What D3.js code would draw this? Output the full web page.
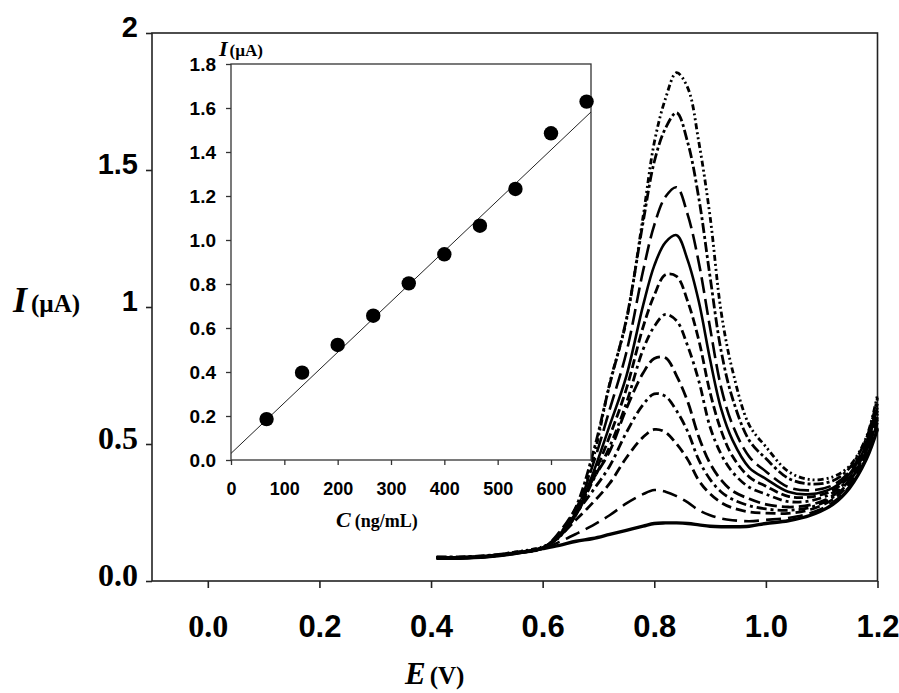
<!DOCTYPE html>
<html>
<head>
<meta charset="utf-8">
<script src="https://cdn.jsdelivr.net/npm/d3@7/dist/d3.min.js"></script>
<style>
  body { margin: 0; background: #fff; }
  svg { display: block; }
</style>
</head>
<body>
<div id="chart"></div>
<script>
const potentials = [0.41, 0.45, 0.50, 0.55, 0.60, 0.63, 0.66, 0.69, 0.72, 0.75, 0.78, 0.80, 0.82, 0.84,
  0.86, 0.88, 0.90, 0.92, 0.94, 0.97, 1.00, 1.04, 1.08, 1.12, 1.15, 1.18, 1.20];

// Current (µA), blank then increasing concentration
const blank = [0.083, 0.083, 0.088, 0.100, 0.118, 0.130, 0.145, 0.155, 0.170, 0.185, 0.200, 0.210, 0.212, 0.212,
  0.210, 0.205, 0.200, 0.198, 0.198, 0.200, 0.210, 0.220, 0.240, 0.280, 0.340, 0.445, 0.555];
const c1 = [0.083, 0.083, 0.088, 0.100, 0.118, 0.143, 0.172, 0.203, 0.240, 0.283, 0.317, 0.332, 0.326, 0.310,
  0.287, 0.258, 0.240, 0.228, 0.222, 0.218, 0.223, 0.230, 0.248, 0.287, 0.346, 0.450, 0.560];
const c2 = [0.084, 0.084, 0.089, 0.101, 0.119, 0.163, 0.224, 0.286, 0.356, 0.450, 0.525, 0.553, 0.543, 0.500,
  0.443, 0.366, 0.318, 0.286, 0.267, 0.252, 0.248, 0.247, 0.261, 0.298, 0.357, 0.462, 0.580];
const c3 = [0.084, 0.084, 0.089, 0.101, 0.119, 0.170, 0.248, 0.330, 0.419, 0.542, 0.644, 0.683, 0.674, 0.621,
  0.545, 0.441, 0.371, 0.325, 0.298, 0.275, 0.263, 0.258, 0.269, 0.305, 0.365, 0.470, 0.590];
const c4 = [0.085, 0.085, 0.090, 0.102, 0.120, 0.178, 0.267, 0.371, 0.473, 0.629, 0.759, 0.812, 0.815, 0.749,
  0.654, 0.525, 0.429, 0.368, 0.329, 0.300, 0.280, 0.270, 0.278, 0.311, 0.370, 0.475, 0.598];
const c5 = [0.085, 0.085, 0.090, 0.102, 0.120, 0.165, 0.242, 0.366, 0.490, 0.649, 0.845, 0.929, 0.973, 0.950,
  0.857, 0.729, 0.562, 0.462, 0.398, 0.342, 0.317, 0.290, 0.293, 0.322, 0.377, 0.482, 0.610];
const c6 = [0.086, 0.086, 0.091, 0.103, 0.121, 0.162, 0.242, 0.377, 0.528, 0.701, 0.927, 1.043, 1.118, 1.112,
  1.020, 0.877, 0.688, 0.548, 0.456, 0.380, 0.346, 0.309, 0.307, 0.331, 0.384, 0.490, 0.622];
const c7 = [0.086, 0.086, 0.091, 0.103, 0.121, 0.162, 0.244, 0.392, 0.567, 0.748, 1.006, 1.151, 1.236, 1.262,
  1.170, 1.018, 0.808, 0.627, 0.515, 0.414, 0.373, 0.326, 0.317, 0.340, 0.391, 0.498, 0.633];
const c8 = [0.087, 0.087, 0.092, 0.104, 0.122, 0.166, 0.257, 0.424, 0.625, 0.834, 1.132, 1.299, 1.402, 1.437,
  1.336, 1.160, 0.924, 0.705, 0.571, 0.454, 0.400, 0.343, 0.331, 0.350, 0.400, 0.507, 0.647];
const c9 = [0.088, 0.088, 0.093, 0.105, 0.123, 0.171, 0.272, 0.465, 0.716, 0.955, 1.310, 1.530, 1.652, 1.709,
  1.600, 1.395, 1.110, 0.838, 0.668, 0.514, 0.447, 0.375, 0.354, 0.366, 0.413, 0.520, 0.668];
const c10 = [0.085, 0.086, 0.090, 0.105, 0.125, 0.160, 0.250, 0.440, 0.720, 0.950, 1.330, 1.600, 1.760, 1.855,
  1.800, 1.600, 1.330, 0.980, 0.770, 0.570, 0.490, 0.400, 0.370, 0.380, 0.420, 0.525, 0.680];

// Calibration inset
const concentrations = [66.7, 133.3, 200, 266.7, 333.3, 400, 466.7, 533.3, 600, 666.7];
const peakCurrents = [0.186, 0.397, 0.523, 0.656, 0.803, 0.935, 1.065, 1.232, 1.485, 1.629];
const fitC = [0, 675];
const fitI = [0.03, 1.582];

// Ticks
const xTicks = [0, 0.2, 0.4, 0.6, 0.8, 1.0, 1.2];
const xTickLabels = ['0.0', '0.2', '0.4', '0.6', '0.8', '1.0', '1.2'];
const yTicks = [0, 0.5, 1, 1.5, 2];
const yTickLabels = ['0.0', '0.5', '1', '1.5', '2'];
const insetXTicks = [0, 100, 200, 300, 400, 500, 600];
const insetYTicks = [0, 0.2, 0.4, 0.6, 0.8, 1.0, 1.2, 1.4, 1.6, 1.8];

const W = 899, H = 693;
const SANS = '"Liberation Sans", Arial, sans-serif';
const SERIF = '"Liberation Serif", "Times New Roman", serif';

const svg = d3.select('#chart').append('svg')
    .attr('width', W)
    .attr('height', H);

// main scales
const x = d3.scaleLinear().domain([-0.1, 1.2]).range([152, 877.5]);
const y = d3.scaleLinear().domain([0, 2]).range([581, 33]);

// frame
svg.append('rect')
    .attr('x', x(-0.1)).attr('y', y(2))
    .attr('width', x(1.2) - x(-0.1)).attr('height', y(0) - y(2))
    .attr('fill', 'none').attr('stroke', '#222').attr('stroke-width', 1.6);

// x axis
const gx = svg.append('g')
    .attr('transform', `translate(0,${y(0)})`)
    .call(d3.axisBottom(x).tickValues(xTicks).tickSize(7).tickFormat((d, i) => xTickLabels[i]));
gx.select('.domain').remove();
gx.selectAll('line').attr('stroke', '#222').attr('stroke-width', 1.6);
gx.selectAll('text')
    .attr('y', 56).attr('dy', 0)
    .attr('fill', '#000')
    .style('font-family', d => d === 0 ? SERIF : SANS)
    .style('font-weight', 'bold')
    .style('font-size', d => d === 0 ? '32px' : '31px');

// y axis
const gy = svg.append('g')
    .attr('transform', `translate(${x(-0.1)},0)`)
    .call(d3.axisLeft(y).tickValues(yTicks).tickSize(6).tickFormat((d, i) => yTickLabels[i]));
gy.select('.domain').remove();
gy.selectAll('line').attr('stroke', '#222').attr('stroke-width', 1.6);
gy.selectAll('text')
    .attr('x', -14).attr('dy', '0.32em')
    .attr('transform', 'translate(0,-6)')
    .attr('fill', '#000')
    .style('font-family', d => d < 1 ? SERIF : SANS)
    .style('font-weight', 'bold')
    .style('font-size', d => d < 1 ? '32px' : '29px');

// axis titles
const yTitle = svg.append('text')
    .attr('x', 13).attr('y', 312)
    .style('font-family', SERIF).style('font-weight', 'bold');
yTitle.append('tspan').style('font-style', 'italic').style('font-size', '36px').text('I');
yTitle.append('tspan').attr('dx', 4).style('font-size', '25px').text('(µA)');

const xTitle = svg.append('text')
    .attr('x', 405).attr('y', 684)
    .style('font-family', SERIF).style('font-weight', 'bold');
xTitle.append('tspan').style('font-style', 'italic').style('font-size', '31px').text('E');
xTitle.append('tspan').attr('dx', 4).style('font-size', '25px').text('(V)');

// voltammograms
const series = [
  { values: blank, dash: null, width: 3.4 },
  { values: c1, dash: '15,7', width: 2.6 },
  { values: c2, dash: '10,5', width: 2.8 },
  { values: c3, dash: '10,4,3,4', width: 2.8 },
  { values: c4, dash: '12,5', width: 2.8 },
  { values: c5, dash: '9,4,3,4', width: 2.8 },
  { values: c6, dash: '9,4', width: 2.8 },
  { values: c7, dash: null, width: 2.6 },
  { values: c8, dash: '16,6', width: 2.6 },
  { values: c9, dash: '10,3,3,3', width: 2.8 },
  { values: c10, dash: '6,3,2,3,2,3', width: 2.8 }
];

const line = d3.line()
    .x(d => x(d[0]))
    .y(d => y(d[1]))
    .curve(d3.curveCatmullRom.alpha(0.5));

svg.append('g').selectAll('path')
  .data(series)
  .join('path')
    .attr('d', s => line(potentials.map((e, i) => [e, s.values[i]])))
    .attr('fill', 'none')
    .attr('stroke', '#000')
    .attr('stroke-width', s => s.width)
    .attr('stroke-dasharray', s => s.dash);

// ---- inset calibration plot ----
const ix = d3.scaleLinear().domain([0, 675]).range([231, 591]);
const iy = d3.scaleLinear().domain([0, 1.8]).range([460, 64]);

const inset = svg.append('g');

inset.append('rect')
    .attr('x', ix(0)).attr('y', iy(1.8))
    .attr('width', ix(675) - ix(0)).attr('height', iy(0) - iy(1.8))
    .attr('fill', '#fff').attr('stroke', '#333').attr('stroke-width', 1.3);

const igx = inset.append('g')
    .attr('transform', `translate(0,${iy(0)})`)
    .call(d3.axisBottom(ix).tickValues(insetXTicks).tickSize(5).tickFormat(d3.format('d')));
igx.select('.domain').remove();
igx.selectAll('line').attr('stroke', '#333').attr('stroke-width', 1.3);
igx.selectAll('text')
    .attr('y', 35).attr('dy', 0)
    .attr('fill', '#000')
    .style('font-family', SANS).style('font-weight', 'bold').style('font-size', '18px');

const igy = inset.append('g')
    .attr('transform', `translate(${ix(0)},0)`)
    .call(d3.axisLeft(iy).tickValues(insetYTicks).tickSize(5).tickFormat(d3.format('.1f')));
igy.select('.domain').remove();
igy.selectAll('line').attr('stroke', '#333').attr('stroke-width', 1.3);
igy.selectAll('text')
    .attr('x', -15).attr('dy', '0.36em')
    .attr('fill', '#000')
    .style('font-family', SANS).style('font-weight', 'bold').style('font-size', '19px');

// fit line
inset.append('path')
    .attr('d', d3.line().x(d => ix(d[0])).y(d => iy(d[1]))(fitC.map((c, i) => [c, fitI[i]])))
    .attr('stroke', '#222').attr('stroke-width', 1).attr('fill', 'none');

// points
inset.append('g').selectAll('circle')
  .data(concentrations.map((c, i) => [c, peakCurrents[i]]))
  .join('circle')
    .attr('cx', d => ix(d[0]))
    .attr('cy', d => iy(d[1]))
    .attr('r', 7.2)
    .attr('fill', '#000');

// inset titles
const iyTitle = inset.append('text')
    .attr('x', 219).attr('y', 56)
    .style('font-family', SERIF).style('font-weight', 'bold');
iyTitle.append('tspan').style('font-style', 'italic').style('font-size', '22px').text('I');
iyTitle.append('tspan').attr('dx', 2).style('font-size', '17px').text('(µA)');

const ixTitle = inset.append('text')
    .attr('x', 336).attr('y', 527)
    .style('font-family', SERIF).style('font-weight', 'bold');
ixTitle.append('tspan').style('font-style', 'italic').style('font-size', '22px').text('C');
ixTitle.append('tspan').attr('dx', 4).style('font-size', '18px').text('(ng/mL)');
</script>
</body>
</html>
